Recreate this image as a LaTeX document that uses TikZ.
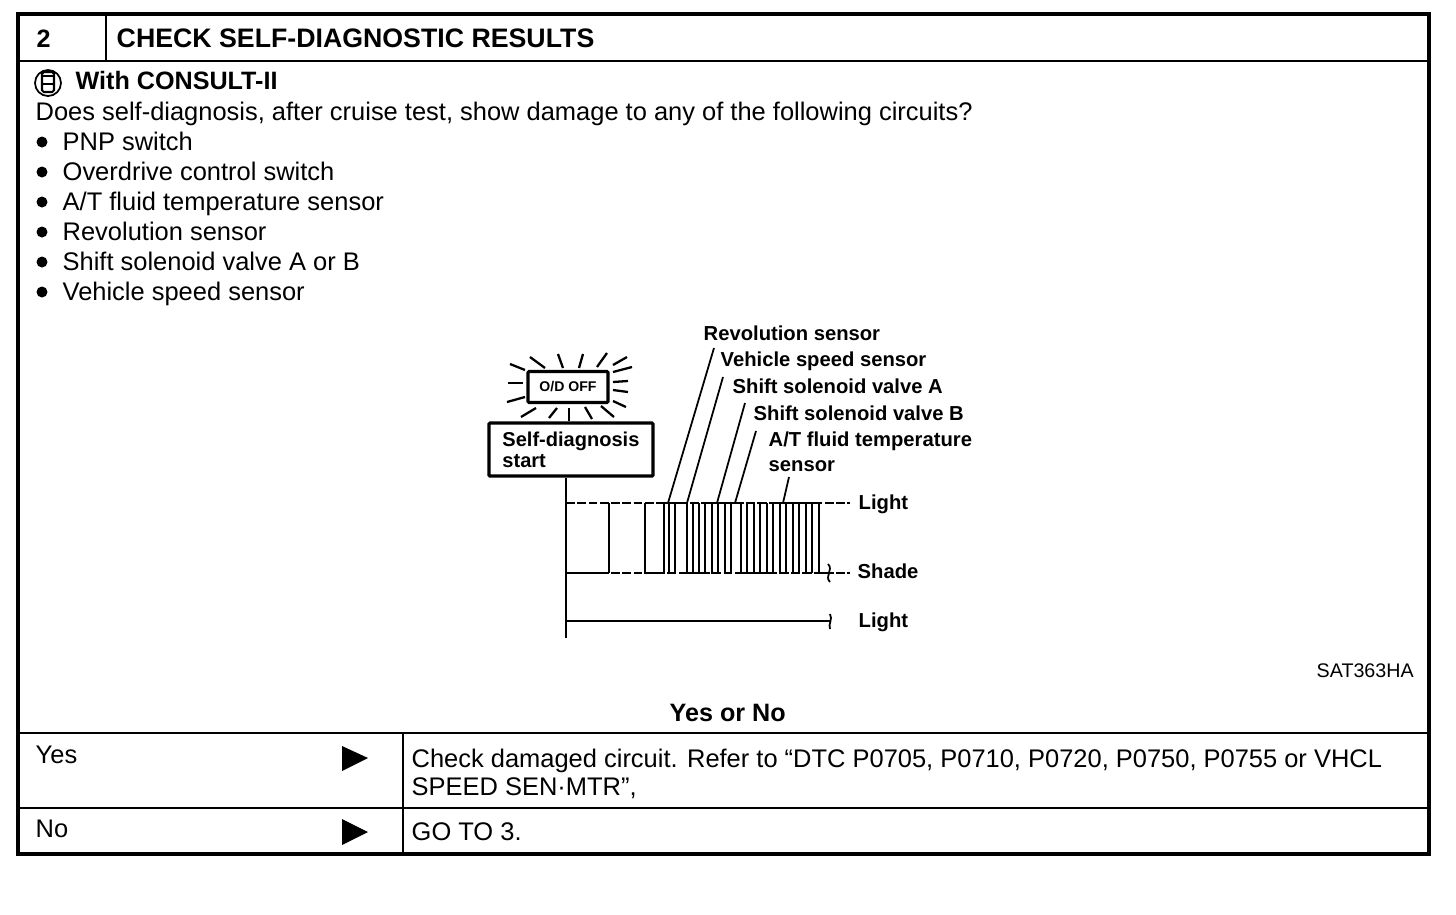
\documentclass[tikz,border=0pt]{standalone}
\usepackage{fontspec}
\setmainfont{Liberation Sans}
\usetikzlibrary{calc}
\usetikzlibrary{positioning}

\tikzset{
  bodytext/.style={anchor=base west,inner sep=0pt,font=\fontsize{7.24}{8}\selectfont},
  headtext/.style={anchor=base west,inner sep=0pt,font=\fontsize{7.15}{8}\selectfont\bfseries},
  figtext/.style={anchor=base west,inner sep=0pt,font=\fontsize{5.75}{7}\selectfont\bfseries},
  frameline/.style={line width=1.2pt},
  rowline/.style={line width=0.75pt},
  traceline/.style={line width=0.8pt},
  guideline/.style={line width=0.75pt,dash pattern=on 2.5pt off 0.7pt},
  leaderline/.style={line width=0.5pt},
  rayline/.style={line width=0.65pt},
}

\begin{document}
\begin{tikzpicture}[x=0.01cm,y=-0.01cm]
\useasboundingbox (0,0) rectangle (1456,914);
\fill[white] (0,0) rectangle (1456,914);

% table
\draw[frameline] (18,14) rectangle (1429,854);
\draw[rowline] (18,61) -- (1429,61);
\draw[rowline] (106,14) -- (106,61);
\draw[rowline] (18,733) -- (1429,733);
\draw[rowline] (18,808) -- (1429,808);
\draw[rowline] (403,733) -- (403,854);

\node[headtext] (stepno) at (36,47) {2};
\node[headtext,font=\fontsize{7.6}{8}\selectfont\bfseries] (steptitle) at (116,47) {CHECK SELF-DIAGNOSTIC RESULTS};

% consult icon
\draw[line width=0.5pt] (48,83) circle (13);
\draw[line width=0.6pt,rounded corners=0.5pt] (42,72) rectangle (54,92);
\draw[line width=0.6pt] (42,76) -- (54,76);
\draw[line width=0.4pt] (42,84) -- (54,84);
\node[headtext] (consult) at (75,89) {With CONSULT-II};

\node[bodytext] (question) at (35,120) {Does self-diagnosis, after cruise test, show damage to any of the following circuits?};
\foreach \ypos/\name in {150/{PNP switch},180/{Overdrive control switch},210/{A/T fluid temperature sensor},240/{Revolution sensor},270/{Shift solenoid valve A or B},300/{Vehicle speed sensor}}{
  \fill (42,\ypos-8) circle (5.5);
  \node[bodytext] at (62,\ypos) {\name};
}

% warning lamp
\node[draw,line width=0.9pt,rounded corners=0.3pt,minimum width=0.8cm,minimum height=0.31cm,inner sep=0pt,
  font=\fontsize{4}{5}\selectfont\bfseries] (odbox) at (568,387) {O/D OFF};
\foreach \xa/\ya/\xb/\yb in {530/357/545/368,558/354/563/368,583/354/579/368,607/353/597/367,627/357/613/365,
  632/367/613/372,628/381/613/382,628/392/613/390,626/407/613/401,614/417/601/406,592/419/585/407,
  569/421/569/408,549/418/557/408,521/417/536/408,507/402/525/397,508/383/523/383,510/364/525/370}{
  \draw[rayline] (\xa,\ya) -- (\xb,\yb);
}
\node[draw,line width=0.9pt,rounded corners=0.3pt,minimum width=1.64cm,minimum height=0.53cm,inner sep=0pt,
  align=left,text width=1.37cm,font=\fontsize{5.7}{6}\selectfont\bfseries] (startbox) at (571,449.5) {Self-diagnosis\\start};

% waveform
\coordinate (axisend) at (566,638);
\draw[rowline] (startbox.south -| axisend) -- (axisend);
\draw[guideline] (566,503) -- (850,503);
\draw[guideline] (566,573) -- (850,573);
\draw[rowline] (566,573) -- (609,573);
\draw[traceline] (609,573) -- (609,503);
\draw[traceline] (645,503) -- (645,573) -- (664,573) -- (664,503) -- (669,503);
\foreach \xa/\xb in {669/675,687/693,699/705,712/718,725/731,741/747,754/760,767/773,780/786,793/799,806/812,819/830}{
  \draw[traceline] (\xa,503) -- (\xa,573) -- (\xb,573);
}
\foreach \xb/\xc in {675/687,693/699,705/712,718/725,731/741,747/754,760/767,773/780,786/793,799/806,812/819}{
  \draw[traceline] (\xb,573) -- (\xb,503) -- (\xc,503);
}
\draw[line width=0.5pt] (828,564) .. controls (834,570) and (824,576) .. (830,582);
\draw[rowline] (566,621) -- (830,621);
\draw[line width=0.5pt] (830,614) .. controls (833,619) and (828,624) .. (830,629);
\node[figtext] (lightone) at (858,509) {Light};
\node[figtext] (shadeone) at (857,578) {Shade};
\node[figtext] (lighttwo) at (858,627) {Light};

% sensor labels
\node[figtext] (revlabel) at (703,340) {Revolution sensor};
\node[figtext] (vehlabel) at (720,366) {Vehicle speed sensor};
\node[figtext] (salabel) at (732,393) {Shift solenoid valve A};
\node[figtext] (sblabel) at (753,420) {Shift solenoid valve B};
\node[figtext] (atlabel) at (768,446) {A/T fluid temperature};
\node[figtext] (atlabeltwo) at (768,471) {sensor};
\coordinate (revtop) at (714,348);
\coordinate (vehtop) at (723,377);
\coordinate (satop) at (745,403);
\coordinate (sbtop) at (756,431);
\coordinate (attop) at (789,477);
\coordinate (revfoot) at (668,503);
\coordinate (vehfoot) at (687,503);
\coordinate (safoot) at (717,503);
\coordinate (sbfoot) at (735,503);
\coordinate (atfoot) at (783,503);
\draw[leaderline] (revtop) -- (revfoot);
\draw[leaderline] (vehtop) -- (vehfoot);
\draw[leaderline] (satop) -- (safoot);
\draw[leaderline] (sbtop) -- (sbfoot);
\draw[leaderline] (attop) -- (atfoot);

\node[anchor=base west,inner sep=0pt,font=\fontsize{5.6}{6}\selectfont] (figcode) at (1316,677) {SAT363HA};
\node[headtext] (yesno) at (669,721) {Yes or No};

% answers
\node[bodytext] (yesrow) at (35,763) {Yes};
\fill (342,746) -- (368,758) -- (342,771) -- cycle;
\node[bodytext] (yestext) at (411,767) {Check damaged circuit. Refer to “DTC P0705, P0710, P0720, P0750, P0755 or VHCL};
\node[bodytext] (yestexttwo) at (411,795) {SPEED SEN·MTR”,};
\node[bodytext] (norow) at (35,837) {No};
\fill (342,819) -- (368,832) -- (342,845) -- cycle;
\node[bodytext] (notext) at (411,840) {GO TO 3.};
\end{tikzpicture}
\end{document}
